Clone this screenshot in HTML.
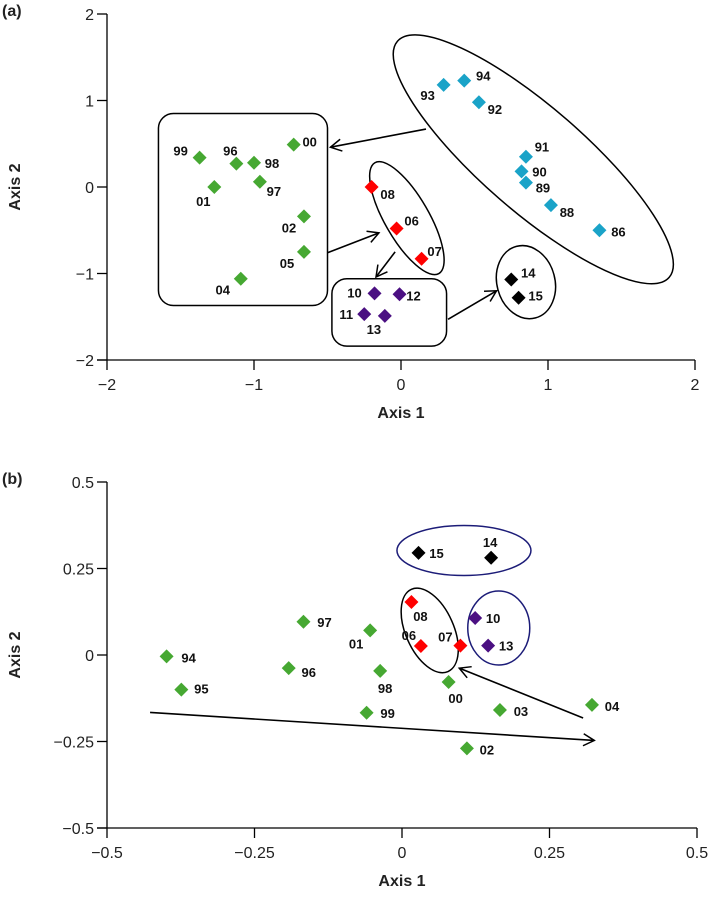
<!DOCTYPE html>
<html><head><meta charset="utf-8"><style>
html,body{margin:0;padding:0;background:#fff;width:709px;height:905px;overflow:hidden}
svg{display:block;font-family:"Liberation Sans",sans-serif}
.lbl{font-size:13px;font-weight:bold;fill:#111}
.tick{font-size:16px;fill:#222}
.axt{font-size:16px;font-weight:bold;fill:#222}
</style></head><body>
<svg id="chart" width="709" height="905" viewBox="0 0 709 905">
<defs><marker id="ah" markerWidth="14" markerHeight="14" refX="12" refY="7" orient="auto" markerUnits="userSpaceOnUse"><path d="M1,1 L12,7 L1,13" fill="none" stroke="#000" stroke-width="1.5"/></marker></defs>
</svg>
<script>
// Panel (a) data
const aLabels = ["00","99","96","98","97","01","02","05","04","08","06","07","10","12","11","13","14","15","93","94","92","91","90","89","88","86"];
const aX = [-0.73,-1.37,-1.12,-1.0,-0.96,-1.27,-0.66,-0.66,-1.09,-0.2,-0.03,0.14,-0.18,-0.01,-0.25,-0.11,0.75,0.8,0.29,0.43,0.53,0.85,0.82,0.85,1.02,1.35];
const aY = [0.49,0.34,0.27,0.28,0.06,0.0,-0.34,-0.75,-1.06,0.0,-0.48,-0.83,-1.23,-1.24,-1.47,-1.49,-1.07,-1.28,1.18,1.23,0.98,0.35,0.18,0.05,-0.21,-0.5];
const aGroup = ["g","g","g","g","g","g","g","g","g","r","r","r","p","p","p","p","k","k","c","c","c","c","c","c","c","c"];
const aTicks = [-2,-1,0,1,2];
// Panel (b) data
const bLabels = ["15","14","08","06","07","10","13","97","01","94","96","98","95","00","99","03","04","02"];
const bX = [0.028,0.151,0.016,0.032,0.099,0.124,0.146,-0.167,-0.054,-0.399,-0.192,-0.037,-0.374,0.079,-0.06,0.166,0.322,0.11];
const bY = [0.295,0.281,0.153,0.026,0.027,0.107,0.027,0.096,0.071,-0.004,-0.038,-0.046,-0.1,-0.078,-0.167,-0.159,-0.144,-0.27];
const bGroup = ["k","k","r","r","r","p","p","g","g","g","g","g","g","g","g","g","g","g"];
const bTicks = [-0.5,-0.25,0,0.25,0.5];
const bTickText = ["\u22120.5","\u22120.25","0","0.25","0.5"];

const aOff = {"00":[16,-3],"99":[-19,-7],"96":[-6,-13],"98":[18,0],"97":[14,9],"01":[-11,14],"02":[-15,11],"05":[-17,11],"04":[-18,11],"08":[16,7],"06":[15,-8],"07":[13,-8],"10":[-20,-1],"12":[14,1],"11":[-18,0],"13":[-11,13],"14":[17,-7],"15":[17,-2],"93":[-16,10],"94":[19,-5],"92":[16,7],"91":[16,-10],"90":[18,0],"89":[17,5],"88":[16,7],"86":[19,1]};
const bOff = {"15":[18,0],"14":[-1,-16],"08":[9,14],"06":[-12,-11],"07":[-15,-9],"10":[18,0],"13":[18,0],"97":[21,0],"01":[-14,13],"94":[22,1],"96":[20,4],"98":[5,17],"95":[20,-1],"00":[7,16],"99":[21,0],"03":[21,1],"04":[20,1],"02":[20,1]};
const colors = {g:"#46a832",r:"#ff0000",p:"#4b1082",k:"#000000",c:"#1aa3c8"};

const svg = document.getElementById('chart');
const NS = "http://www.w3.org/2000/svg";
function mk(tag, attrs, parent){const e=document.createElementNS(NS,tag);for(const k in attrs)e.setAttribute(k,attrs[k]);(parent||svg).appendChild(e);return e;}

function panel(cfg){
  const g = mk('g',{});
  
  
  const sx = v => cfg.x0 + (v - cfg.min) / (cfg.max - cfg.min) * (cfg.x1 - cfg.x0);
  const sy = v => cfg.y0 - (v - cfg.min) / (cfg.max - cfg.min) * (cfg.y0 - cfg.y1);
  // axes
  const ya = mk('line',{x1:cfg.x0,y1:cfg.y1,x2:cfg.x0,y2:cfg.y0,stroke:'#000','stroke-width':1.3},g);
   
  const xa = mk('line',{x1:cfg.x0-10,y1:cfg.y0,x2:cfg.x1,y2:cfg.y0,stroke:'#000','stroke-width':1.3},g);
   
  cfg.ticks.forEach((t,i)=>{
    mk('line',{x1:sx(t),y1:cfg.y0,x2:sx(t),y2:cfg.y0+10,stroke:'#000','stroke-width':1.3},g);
    mk('line',{x1:cfg.x0-10,y1:sy(t),x2:cfg.x0,y2:sy(t),stroke:'#000','stroke-width':1.3},g);
    const xt = mk('text',{x:sx(t),y:cfg.y0+30,'text-anchor':'middle',class:'tick'},g);
    xt.textContent = cfg.tickText[i];
    
    
    const yt = mk('text',{x:cfg.x0-13,y:sy(t)+6,'text-anchor':'end',class:'tick'},g);
    yt.textContent = cfg.tickText[i];
    
    
  });
  const xl = mk('text',{x:(cfg.x0+cfg.x1)/2,y:cfg.y0+58,'text-anchor':'middle',class:'axt'},g);
  xl.textContent='Axis 1';
   
  const ym=(cfg.y0+cfg.y1)/2;
  const yl = mk('text',{x:20,y:ym,'text-anchor':'middle',class:'axt',transform:`rotate(-90 20 ${ym})`},g);
  yl.textContent='Axis 2';
   
  const pl = mk('text',{x:2,y:cfg.y1+2,class:'axt','font-size':'17'},g);
  pl.textContent=cfg.panelLabel;
   
  // annotations
  cfg.ells.forEach(e=>{
    const el = mk('ellipse',{cx:sx(e[0]),cy:sy(e[1]),rx:e[2],ry:e[3],transform:`rotate(${e[4]} ${sx(e[0])} ${sy(e[1])})`,fill:'none',stroke:e[5],'stroke-width':1.5},g);
     
  });
  cfg.boxes.forEach(b=>{
    const r = mk('rect',{x:sx(b[0]),y:sy(b[1]),width:sx(b[2])-sx(b[0]),height:sy(b[3])-sy(b[1]),rx:15,fill:'none',stroke:'#000','stroke-width':1.5},g);
     
  });
  cfg.arrows.forEach(a=>{
    const l = mk('line',{x1:sx(a[0]),y1:sy(a[1]),x2:sx(a[2]),y2:sy(a[3]),stroke:'#000','stroke-width':1.6,'marker-end':'url(#ah)'},g);
     
  });
  // points
  cfg.labels.forEach((lab,i)=>{
    const px=sx(cfg.xs[i]), py=sy(cfg.ys[i]), s=7;
    const d = mk('path',{d:`M${px},${py-s}L${px+s},${py}L${px},${py+s}L${px-s},${py}Z`,fill:colors[cfg.groups[i]]},g);
     
    const o = cfg.off[lab]||[14,0];
    const t = mk('text',{x:px+o[0],y:py+o[1]+5,'text-anchor':'middle',class:'lbl'},g);
    t.textContent=lab;
     
  });
}

panel({name:'panel-a',panelLabel:'(a)',x0:107,x1:695,y0:360,y1:14,min:-2,max:2,ticks:aTicks,tickText:["\u22122","\u22121","0","1","2"],
  labels:aLabels,xs:aX,ys:aY,groups:aGroup,off:aOff,
  ells:[[0.9,0.32,180,52,41,'#000'],[0.04,-0.36,64,22,60,'#000'],[0.85,-1.10,29,37,-15,'#000']],
  boxes:[[-1.65,0.85,-0.5,-1.37],[-0.47,-1.06,0.31,-1.84]],
  arrows:[[0.17,0.67,-0.48,0.46],[-0.5,-0.76,-0.15,-0.53],[-0.04,-0.75,-0.17,-1.04],[0.32,-1.53,0.65,-1.2]]
});
panel({name:'panel-b',panelLabel:'(b)',x0:107,x1:697,y0:828,y1:482,min:-0.5,max:0.5,ticks:bTicks,tickText:bTickText,
  labels:bLabels,xs:bX,ys:bY,groups:bGroup,off:bOff,
  ells:[[0.105,0.302,67,25,0,'#1c1c78'],[0.047,0.071,45,24,66,'#000'],[0.164,0.078,31,37,0,'#1c1c78']],
  boxes:[],
  arrows:[[0.307,-0.182,0.097,-0.038],[-0.427,-0.166,0.326,-0.247]]
});
</script>
</body></html>
